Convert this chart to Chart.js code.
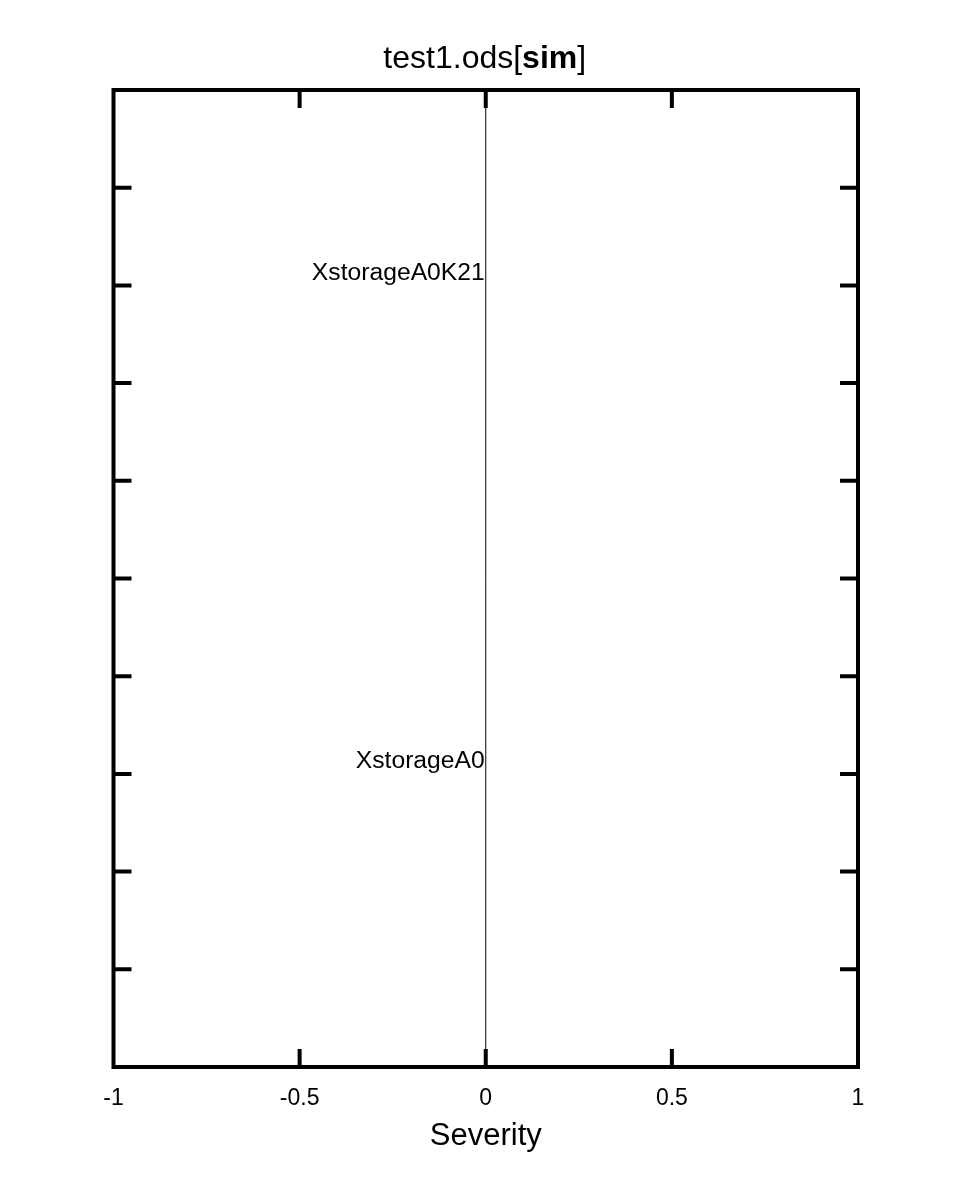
<!DOCTYPE html>
<html>
<head>
<meta charset="utf-8">
<script src="https://cdn.jsdelivr.net/npm/chart.js@4"></script>
<style>
  html, body { margin: 0; padding: 0; background: #fff; }
  #wrap { width: 961px; height: 1200px; }
</style>
</head>
<body>
<div id="wrap"><canvas id="c" width="961" height="1200"></canvas></div>
<script>
// ---- data ----
const titleParts = [['test1.ods[', 'normal'], ['sim', 'bold'], [']', 'normal']];
const xTitle = 'Severity';
const names = ['XstorageA0K21', 'XstorageA0'];
const severity = [0, 0];
const rows = [8.13, 3.13];
const xTicks = [-1, -0.5, 0, 0.5, 1];
const xRange = [-1, 1];
const yRange = [0, 10];
const yTicks = [1, 2, 3, 4, 5, 6, 7, 8, 9];
const innerXTicks = [-0.5, 0, 0.5];

const FONT = '"Liberation Sans", Arial, Helvetica, sans-serif';

const framePlugin = {
  id: 'frame',
  afterDraw(chart) {
    const ctx = chart.ctx;
    const a = chart.chartArea;
    const xs = chart.scales.x, ys = chart.scales.y;
    ctx.save();
    // labels
    ctx.fillStyle = '#000';
    ctx.font = '24.7px ' + FONT;
    ctx.textAlign = 'right';
    ctx.textBaseline = 'middle';
    names.forEach((n, i) => {
      ctx.fillText(n, xs.getPixelForValue(severity[i]) - 1, ys.getPixelForValue(rows[i]));
    });
    // frame
    ctx.strokeStyle = '#000';
    ctx.lineWidth = 4;
    ctx.lineCap = 'square';
    ctx.strokeRect(a.left, a.top, a.right - a.left, a.bottom - a.top);
    const tl = 18;
    ctx.beginPath();
    yTicks.forEach(v => {
      const y = ys.getPixelForValue(v);
      ctx.moveTo(a.left, y); ctx.lineTo(a.left + tl, y);
      ctx.moveTo(a.right, y); ctx.lineTo(a.right - tl, y);
    });
    innerXTicks.forEach(v => {
      const x = xs.getPixelForValue(v);
      ctx.moveTo(x, a.top); ctx.lineTo(x, a.top + tl);
      ctx.moveTo(x, a.bottom); ctx.lineTo(x, a.bottom - tl);
    });
    ctx.lineCap = 'butt';
    ctx.stroke();
    // title
    ctx.textAlign = 'left';
    ctx.textBaseline = 'alphabetic';
    let total = 0;
    const widths = titleParts.map(([t, w]) => {
      ctx.font = w + ' 32px ' + FONT;
      const m = ctx.measureText(t).width; total += m; return m;
    });
    let x = (a.left + a.right) / 2 - total / 2 - 1;
    titleParts.forEach(([t, w], i) => {
      ctx.font = w + ' 32px ' + FONT;
      ctx.fillText(t, x, 68);
      x += widths[i];
    });
    ctx.restore();
  }
};

new Chart(document.getElementById('c'), {
  type: 'scatter',
  data: {
    datasets: [
      {
        data: [{ x: 0, y: yRange[0] }, { x: 0, y: yRange[1] }],
        showLine: true,
        borderColor: '#000',
        borderWidth: 1,
        pointRadius: 0,
        fill: false
      },
      {
        data: names.map((n, i) => ({ x: severity[i], y: rows[i] })),
        pointRadius: 0,
        showLine: false
      }
    ]
  },
  options: {
    responsive: false,
    animation: false,
    events: [],
    layout: { padding: { left: 113.5, right: 103, top: 90, bottom: 0 } },
    plugins: { legend: { display: false }, tooltip: { enabled: false }, title: { display: false } },
    scales: {
      x: {
        type: 'linear',
        min: xRange[0], max: xRange[1],
        afterFit(s) { s.height = 133; },
        afterBuildTicks(s) { s.ticks = xTicks.map(v => ({ value: v })); },
        grid: { display: false, drawTicks: false },
        border: { display: false },
        ticks: {
          color: '#000',
          font: { family: FONT, size: 23 },
          padding: 18,
          maxRotation: 0,
          autoSkip: false,
          callback: v => String(v)
        },
        title: {
          display: true,
          text: xTitle,
          color: '#000',
          font: { family: FONT, size: 31 },
          padding: { top: 0, bottom: 45 }
        }
      },
      y: {
        type: 'linear',
        display: false,
        min: yRange[0], max: yRange[1]
      }
    }
  },
  plugins: [framePlugin]
});
</script>
</body>
</html>
